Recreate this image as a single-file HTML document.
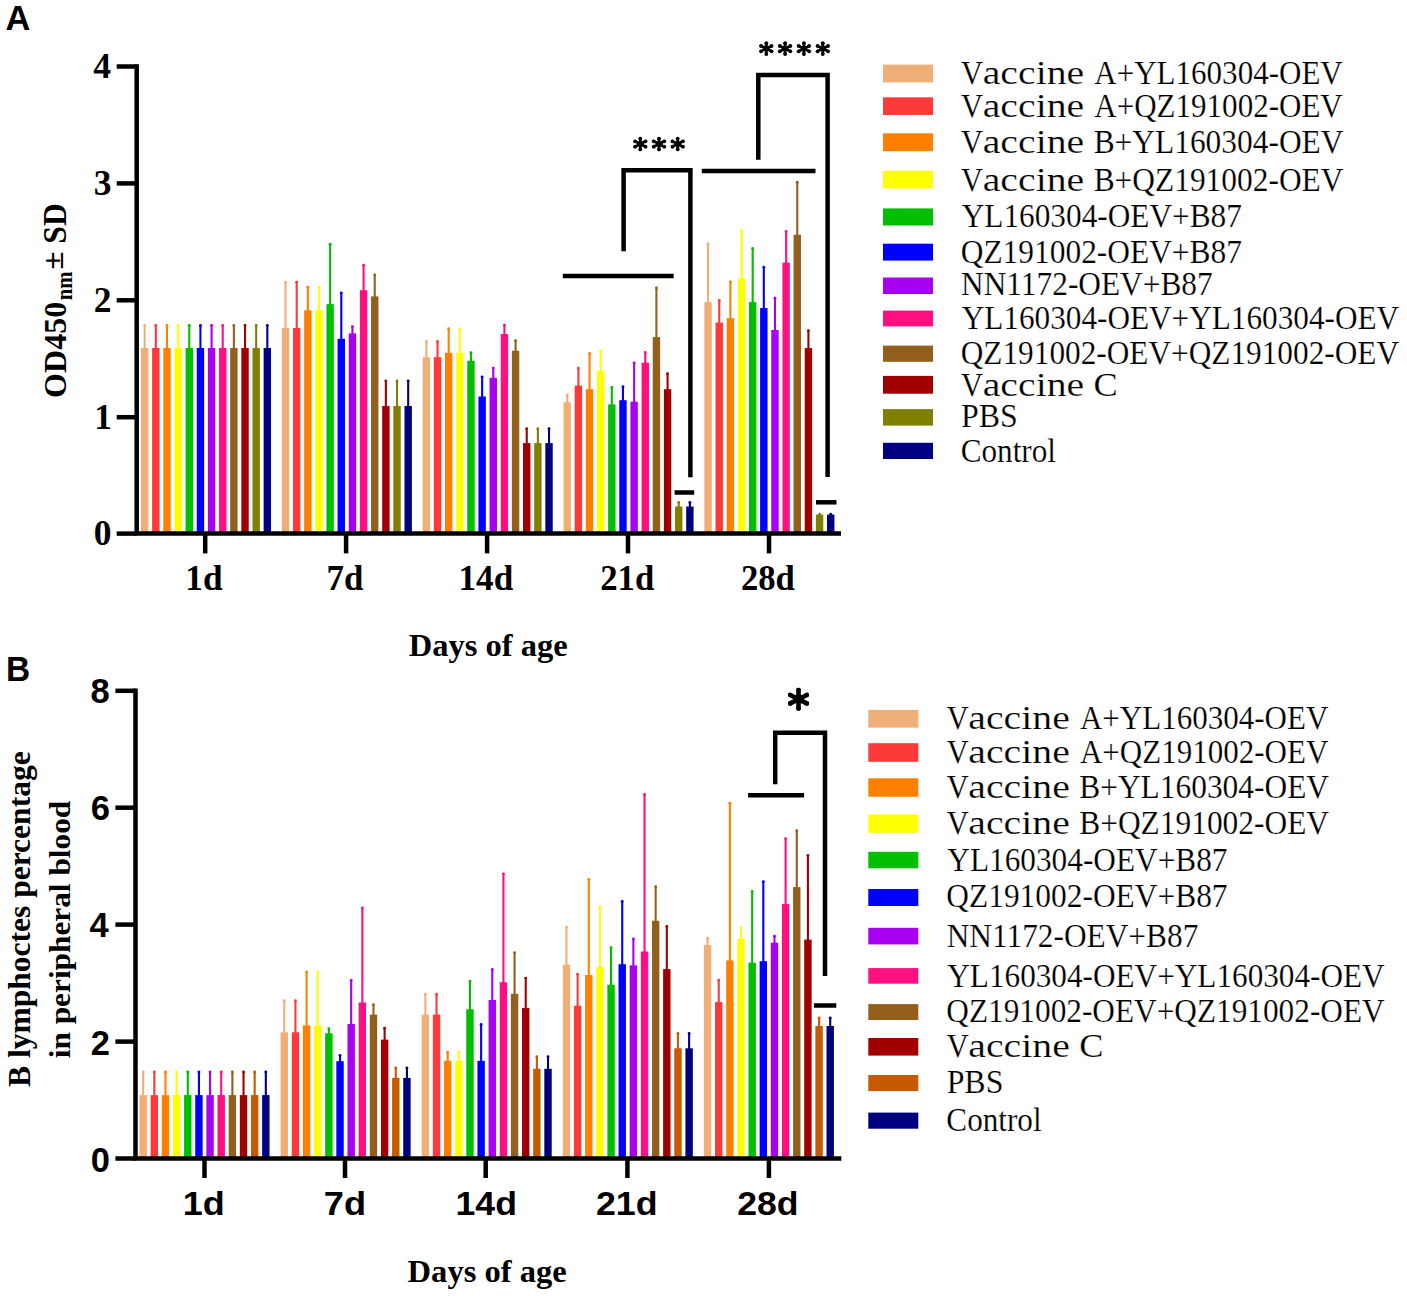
<!DOCTYPE html><html><head><meta charset="utf-8"><title>Figure</title><style>html,body{margin:0;padding:0;background:#fff;overflow:hidden}svg{display:block}</style></head><body>
<svg width="1407" height="1296" viewBox="0 0 1407 1296">
<rect width="1407" height="1296" fill="#fff"/>
<rect x="140.98" y="348.0" width="7.4" height="185.6" fill="#F0AF76"/>
<line x1="144.68" y1="349.0" x2="144.68" y2="325.3" stroke="#F0AF76" stroke-width="2.1"/>
<circle cx="144.68" cy="325.5" r="1.45" fill="#F0AF76"/>
<rect x="152.12" y="348.0" width="7.4" height="185.6" fill="#FC3A3A"/>
<line x1="155.82" y1="349.0" x2="155.82" y2="325.3" stroke="#FC3A3A" stroke-width="2.1"/>
<circle cx="155.82" cy="325.5" r="1.45" fill="#FC3A3A"/>
<rect x="163.28" y="348.0" width="7.4" height="185.6" fill="#FF8000"/>
<line x1="166.97" y1="349.0" x2="166.97" y2="325.3" stroke="#FF8000" stroke-width="2.1"/>
<circle cx="166.97" cy="325.5" r="1.45" fill="#FF8000"/>
<rect x="174.43" y="348.0" width="7.4" height="185.6" fill="#FFFF00"/>
<line x1="178.12" y1="349.0" x2="178.12" y2="325.3" stroke="#FFFF00" stroke-width="2.1"/>
<circle cx="178.12" cy="325.5" r="1.45" fill="#FFFF00"/>
<rect x="185.58" y="348.0" width="7.4" height="185.6" fill="#00BF00"/>
<line x1="189.28" y1="349.0" x2="189.28" y2="325.3" stroke="#00BF00" stroke-width="2.1"/>
<circle cx="189.28" cy="325.5" r="1.45" fill="#00BF00"/>
<rect x="196.73" y="348.0" width="7.4" height="185.6" fill="#0000FF"/>
<line x1="200.43" y1="349.0" x2="200.43" y2="325.3" stroke="#0000FF" stroke-width="2.1"/>
<circle cx="200.43" cy="325.5" r="1.45" fill="#0000FF"/>
<rect x="207.88" y="348.0" width="7.4" height="185.6" fill="#A800F0"/>
<line x1="211.57" y1="349.0" x2="211.57" y2="325.3" stroke="#A800F0" stroke-width="2.1"/>
<circle cx="211.57" cy="325.5" r="1.45" fill="#A800F0"/>
<rect x="219.03" y="348.0" width="7.4" height="185.6" fill="#FF1080"/>
<line x1="222.72" y1="349.0" x2="222.72" y2="325.3" stroke="#FF1080" stroke-width="2.1"/>
<circle cx="222.72" cy="325.5" r="1.45" fill="#FF1080"/>
<rect x="230.18" y="348.0" width="7.4" height="185.6" fill="#935F1C"/>
<line x1="233.88" y1="349.0" x2="233.88" y2="325.3" stroke="#935F1C" stroke-width="2.1"/>
<circle cx="233.88" cy="325.5" r="1.45" fill="#935F1C"/>
<rect x="241.33" y="348.0" width="7.4" height="185.6" fill="#A00000"/>
<line x1="245.03" y1="349.0" x2="245.03" y2="325.3" stroke="#A00000" stroke-width="2.1"/>
<circle cx="245.03" cy="325.5" r="1.45" fill="#A00000"/>
<rect x="252.48" y="348.0" width="7.4" height="185.6" fill="#808000"/>
<line x1="256.18" y1="349.0" x2="256.18" y2="325.3" stroke="#808000" stroke-width="2.1"/>
<circle cx="256.18" cy="325.5" r="1.45" fill="#808000"/>
<rect x="263.62" y="348.0" width="7.4" height="185.6" fill="#000080"/>
<line x1="267.32" y1="349.0" x2="267.32" y2="325.3" stroke="#000080" stroke-width="2.1"/>
<circle cx="267.32" cy="325.5" r="1.45" fill="#000080"/>
<rect x="281.83" y="328.0" width="7.4" height="205.6" fill="#F0AF76"/>
<line x1="285.53" y1="329.0" x2="285.53" y2="282.0" stroke="#F0AF76" stroke-width="2.1"/>
<circle cx="285.53" cy="282.2" r="1.45" fill="#F0AF76"/>
<rect x="292.98" y="328.0" width="7.4" height="205.6" fill="#FC3A3A"/>
<line x1="296.68" y1="329.0" x2="296.68" y2="282.0" stroke="#FC3A3A" stroke-width="2.1"/>
<circle cx="296.68" cy="282.2" r="1.45" fill="#FC3A3A"/>
<rect x="304.13" y="310.3" width="7.4" height="223.3" fill="#FF8000"/>
<line x1="307.83" y1="311.3" x2="307.83" y2="287.0" stroke="#FF8000" stroke-width="2.1"/>
<circle cx="307.83" cy="287.2" r="1.45" fill="#FF8000"/>
<rect x="315.28" y="310.3" width="7.4" height="223.3" fill="#FFFF00"/>
<line x1="318.98" y1="311.3" x2="318.98" y2="287.0" stroke="#FFFF00" stroke-width="2.1"/>
<circle cx="318.98" cy="287.2" r="1.45" fill="#FFFF00"/>
<rect x="326.43" y="304.1" width="7.4" height="229.5" fill="#00BF00"/>
<line x1="330.12" y1="305.1" x2="330.12" y2="244.1" stroke="#00BF00" stroke-width="2.1"/>
<circle cx="330.12" cy="244.3" r="1.45" fill="#00BF00"/>
<rect x="337.58" y="338.8" width="7.4" height="194.8" fill="#0000FF"/>
<line x1="341.28" y1="339.8" x2="341.28" y2="292.8" stroke="#0000FF" stroke-width="2.1"/>
<circle cx="341.28" cy="293.0" r="1.45" fill="#0000FF"/>
<rect x="348.73" y="333.4" width="7.4" height="200.2" fill="#A800F0"/>
<line x1="352.43" y1="334.4" x2="352.43" y2="326.4" stroke="#A800F0" stroke-width="2.1"/>
<circle cx="352.43" cy="326.6" r="1.45" fill="#A800F0"/>
<rect x="359.88" y="290.2" width="7.4" height="243.4" fill="#FF1080"/>
<line x1="363.58" y1="291.2" x2="363.58" y2="265.0" stroke="#FF1080" stroke-width="2.1"/>
<circle cx="363.58" cy="265.2" r="1.45" fill="#FF1080"/>
<rect x="371.03" y="296.4" width="7.4" height="237.2" fill="#935F1C"/>
<line x1="374.73" y1="297.4" x2="374.73" y2="274.7" stroke="#935F1C" stroke-width="2.1"/>
<circle cx="374.73" cy="274.9" r="1.45" fill="#935F1C"/>
<rect x="382.18" y="406.0" width="7.4" height="127.6" fill="#A00000"/>
<line x1="385.88" y1="407.0" x2="385.88" y2="380.7" stroke="#A00000" stroke-width="2.1"/>
<circle cx="385.88" cy="380.9" r="1.45" fill="#A00000"/>
<rect x="393.33" y="406.0" width="7.4" height="127.6" fill="#808000"/>
<line x1="397.03" y1="407.0" x2="397.03" y2="380.7" stroke="#808000" stroke-width="2.1"/>
<circle cx="397.03" cy="380.9" r="1.45" fill="#808000"/>
<rect x="404.48" y="406.0" width="7.4" height="127.6" fill="#000080"/>
<line x1="408.18" y1="407.0" x2="408.18" y2="380.7" stroke="#000080" stroke-width="2.1"/>
<circle cx="408.18" cy="380.9" r="1.45" fill="#000080"/>
<rect x="422.68" y="357.2" width="7.4" height="176.4" fill="#F0AF76"/>
<line x1="426.38" y1="358.2" x2="426.38" y2="341.3" stroke="#F0AF76" stroke-width="2.1"/>
<circle cx="426.38" cy="341.5" r="1.45" fill="#F0AF76"/>
<rect x="433.82" y="357.2" width="7.4" height="176.4" fill="#FC3A3A"/>
<line x1="437.52" y1="358.2" x2="437.52" y2="341.3" stroke="#FC3A3A" stroke-width="2.1"/>
<circle cx="437.52" cy="341.5" r="1.45" fill="#FC3A3A"/>
<rect x="444.98" y="352.8" width="7.4" height="180.8" fill="#FF8000"/>
<line x1="448.68" y1="353.8" x2="448.68" y2="328.5" stroke="#FF8000" stroke-width="2.1"/>
<circle cx="448.68" cy="328.7" r="1.45" fill="#FF8000"/>
<rect x="456.12" y="352.8" width="7.4" height="180.8" fill="#FFFF00"/>
<line x1="459.82" y1="353.8" x2="459.82" y2="328.5" stroke="#FFFF00" stroke-width="2.1"/>
<circle cx="459.82" cy="328.7" r="1.45" fill="#FFFF00"/>
<rect x="467.27" y="360.8" width="7.4" height="172.8" fill="#00BF00"/>
<line x1="470.97" y1="361.8" x2="470.97" y2="352.4" stroke="#00BF00" stroke-width="2.1"/>
<circle cx="470.97" cy="352.6" r="1.45" fill="#00BF00"/>
<rect x="478.43" y="396.5" width="7.4" height="137.1" fill="#0000FF"/>
<line x1="482.12" y1="397.5" x2="482.12" y2="376.7" stroke="#0000FF" stroke-width="2.1"/>
<circle cx="482.12" cy="376.9" r="1.45" fill="#0000FF"/>
<rect x="489.57" y="377.8" width="7.4" height="155.8" fill="#A800F0"/>
<line x1="493.27" y1="378.8" x2="493.27" y2="367.9" stroke="#A800F0" stroke-width="2.1"/>
<circle cx="493.27" cy="368.1" r="1.45" fill="#A800F0"/>
<rect x="500.73" y="334.0" width="7.4" height="199.6" fill="#FF1080"/>
<line x1="504.43" y1="335.0" x2="504.43" y2="324.9" stroke="#FF1080" stroke-width="2.1"/>
<circle cx="504.43" cy="325.1" r="1.45" fill="#FF1080"/>
<rect x="511.88" y="350.7" width="7.4" height="182.9" fill="#935F1C"/>
<line x1="515.58" y1="351.7" x2="515.58" y2="340.6" stroke="#935F1C" stroke-width="2.1"/>
<circle cx="515.58" cy="340.8" r="1.45" fill="#935F1C"/>
<rect x="523.02" y="443.1" width="7.4" height="90.5" fill="#A00000"/>
<line x1="526.73" y1="444.1" x2="526.73" y2="428.5" stroke="#A00000" stroke-width="2.1"/>
<circle cx="526.73" cy="428.7" r="1.45" fill="#A00000"/>
<rect x="534.17" y="443.1" width="7.4" height="90.5" fill="#808000"/>
<line x1="537.88" y1="444.1" x2="537.88" y2="428.5" stroke="#808000" stroke-width="2.1"/>
<circle cx="537.88" cy="428.7" r="1.45" fill="#808000"/>
<rect x="545.32" y="443.1" width="7.4" height="90.5" fill="#000080"/>
<line x1="549.02" y1="444.1" x2="549.02" y2="428.5" stroke="#000080" stroke-width="2.1"/>
<circle cx="549.02" cy="428.7" r="1.45" fill="#000080"/>
<rect x="563.52" y="402.3" width="7.4" height="131.3" fill="#F0AF76"/>
<line x1="567.22" y1="403.3" x2="567.22" y2="395.0" stroke="#F0AF76" stroke-width="2.1"/>
<circle cx="567.22" cy="395.2" r="1.45" fill="#F0AF76"/>
<rect x="574.67" y="385.6" width="7.4" height="148.0" fill="#FC3A3A"/>
<line x1="578.38" y1="386.6" x2="578.38" y2="367.9" stroke="#FC3A3A" stroke-width="2.1"/>
<circle cx="578.38" cy="368.1" r="1.45" fill="#FC3A3A"/>
<rect x="585.82" y="389.2" width="7.4" height="144.4" fill="#FF8000"/>
<line x1="589.52" y1="390.2" x2="589.52" y2="353.3" stroke="#FF8000" stroke-width="2.1"/>
<circle cx="589.52" cy="353.5" r="1.45" fill="#FF8000"/>
<rect x="596.97" y="371.0" width="7.4" height="162.6" fill="#FFFF00"/>
<line x1="600.67" y1="372.0" x2="600.67" y2="351.2" stroke="#FFFF00" stroke-width="2.1"/>
<circle cx="600.67" cy="351.4" r="1.45" fill="#FFFF00"/>
<rect x="608.12" y="404.4" width="7.4" height="129.2" fill="#00BF00"/>
<line x1="611.82" y1="405.4" x2="611.82" y2="387.3" stroke="#00BF00" stroke-width="2.1"/>
<circle cx="611.82" cy="387.5" r="1.45" fill="#00BF00"/>
<rect x="619.27" y="400.2" width="7.4" height="133.4" fill="#0000FF"/>
<line x1="622.97" y1="401.2" x2="622.97" y2="386.6" stroke="#0000FF" stroke-width="2.1"/>
<circle cx="622.97" cy="386.8" r="1.45" fill="#0000FF"/>
<rect x="630.42" y="401.7" width="7.4" height="131.9" fill="#A800F0"/>
<line x1="634.12" y1="402.7" x2="634.12" y2="362.7" stroke="#A800F0" stroke-width="2.1"/>
<circle cx="634.12" cy="362.9" r="1.45" fill="#A800F0"/>
<rect x="641.57" y="362.7" width="7.4" height="170.9" fill="#FF1080"/>
<line x1="645.27" y1="363.7" x2="645.27" y2="352.3" stroke="#FF1080" stroke-width="2.1"/>
<circle cx="645.27" cy="352.5" r="1.45" fill="#FF1080"/>
<rect x="652.72" y="337.1" width="7.4" height="196.5" fill="#935F1C"/>
<line x1="656.42" y1="338.1" x2="656.42" y2="287.7" stroke="#935F1C" stroke-width="2.1"/>
<circle cx="656.42" cy="287.9" r="1.45" fill="#935F1C"/>
<rect x="663.87" y="389.2" width="7.4" height="144.4" fill="#A00000"/>
<line x1="667.57" y1="390.2" x2="667.57" y2="373.5" stroke="#A00000" stroke-width="2.1"/>
<circle cx="667.57" cy="373.7" r="1.45" fill="#A00000"/>
<rect x="675.02" y="506.5" width="7.4" height="27.1" fill="#808000"/>
<line x1="678.72" y1="507.5" x2="678.72" y2="502.3" stroke="#808000" stroke-width="2.1"/>
<circle cx="678.72" cy="502.5" r="1.45" fill="#808000"/>
<rect x="686.17" y="506.5" width="7.4" height="27.1" fill="#000080"/>
<line x1="689.88" y1="507.5" x2="689.88" y2="502.3" stroke="#000080" stroke-width="2.1"/>
<circle cx="689.88" cy="502.5" r="1.45" fill="#000080"/>
<rect x="704.37" y="302.1" width="7.4" height="231.5" fill="#F0AF76"/>
<line x1="708.07" y1="303.1" x2="708.07" y2="243.6" stroke="#F0AF76" stroke-width="2.1"/>
<circle cx="708.07" cy="243.8" r="1.45" fill="#F0AF76"/>
<rect x="715.52" y="322.6" width="7.4" height="211.0" fill="#FC3A3A"/>
<line x1="719.23" y1="323.6" x2="719.23" y2="300.2" stroke="#FC3A3A" stroke-width="2.1"/>
<circle cx="719.23" cy="300.4" r="1.45" fill="#FC3A3A"/>
<rect x="726.67" y="318.2" width="7.4" height="215.4" fill="#FF8000"/>
<line x1="730.38" y1="319.2" x2="730.38" y2="281.7" stroke="#FF8000" stroke-width="2.1"/>
<circle cx="730.38" cy="281.9" r="1.45" fill="#FF8000"/>
<rect x="737.82" y="278.7" width="7.4" height="254.9" fill="#FFFF00"/>
<line x1="741.52" y1="279.7" x2="741.52" y2="230.5" stroke="#FFFF00" stroke-width="2.1"/>
<circle cx="741.52" cy="230.7" r="1.45" fill="#FFFF00"/>
<rect x="748.97" y="302.1" width="7.4" height="231.5" fill="#00BF00"/>
<line x1="752.67" y1="303.1" x2="752.67" y2="248.3" stroke="#00BF00" stroke-width="2.1"/>
<circle cx="752.67" cy="248.5" r="1.45" fill="#00BF00"/>
<rect x="760.12" y="308.0" width="7.4" height="225.6" fill="#0000FF"/>
<line x1="763.82" y1="309.0" x2="763.82" y2="267.1" stroke="#0000FF" stroke-width="2.1"/>
<circle cx="763.82" cy="267.3" r="1.45" fill="#0000FF"/>
<rect x="771.27" y="330.0" width="7.4" height="203.6" fill="#A800F0"/>
<line x1="774.98" y1="331.0" x2="774.98" y2="298.1" stroke="#A800F0" stroke-width="2.1"/>
<circle cx="774.98" cy="298.3" r="1.45" fill="#A800F0"/>
<rect x="782.42" y="262.6" width="7.4" height="271.0" fill="#FF1080"/>
<line x1="786.12" y1="263.6" x2="786.12" y2="231.3" stroke="#FF1080" stroke-width="2.1"/>
<circle cx="786.12" cy="231.5" r="1.45" fill="#FF1080"/>
<rect x="793.57" y="234.7" width="7.4" height="298.9" fill="#935F1C"/>
<line x1="797.27" y1="235.7" x2="797.27" y2="182.1" stroke="#935F1C" stroke-width="2.1"/>
<circle cx="797.27" cy="182.3" r="1.45" fill="#935F1C"/>
<rect x="804.72" y="348.1" width="7.4" height="185.5" fill="#A00000"/>
<line x1="808.42" y1="349.1" x2="808.42" y2="330.4" stroke="#A00000" stroke-width="2.1"/>
<circle cx="808.42" cy="330.6" r="1.45" fill="#A00000"/>
<rect x="815.87" y="514.6" width="7.4" height="19.0" fill="#808000"/>
<line x1="819.57" y1="515.6" x2="819.57" y2="514.1" stroke="#808000" stroke-width="2.1"/>
<circle cx="819.57" cy="514.3" r="1.45" fill="#808000"/>
<rect x="827.02" y="514.6" width="7.4" height="19.0" fill="#000080"/>
<line x1="830.73" y1="515.6" x2="830.73" y2="514.1" stroke="#000080" stroke-width="2.1"/>
<circle cx="830.73" cy="514.3" r="1.45" fill="#000080"/>
<path d="M136.7 64.3 V533.6 H841.0" fill="none" stroke="#000" stroke-width="4.5"/>
<line x1="116.7" y1="66.5" x2="136.7" y2="66.5" stroke="#000" stroke-width="4.5"/>
<line x1="116.7" y1="183.4" x2="136.7" y2="183.4" stroke="#000" stroke-width="4.5"/>
<line x1="116.7" y1="300.3" x2="136.7" y2="300.3" stroke="#000" stroke-width="4.5"/>
<line x1="116.7" y1="417.2" x2="136.7" y2="417.2" stroke="#000" stroke-width="4.5"/>
<line x1="116.7" y1="533.6" x2="136.7" y2="533.6" stroke="#000" stroke-width="4.5"/>
<line x1="205.2" y1="533.6" x2="205.2" y2="553.4" stroke="#000" stroke-width="4.5"/>
<line x1="346.1" y1="533.6" x2="346.1" y2="553.4" stroke="#000" stroke-width="4.5"/>
<line x1="487.1" y1="533.6" x2="487.1" y2="553.4" stroke="#000" stroke-width="4.5"/>
<line x1="628.0" y1="533.6" x2="628.0" y2="553.4" stroke="#000" stroke-width="4.5"/>
<line x1="769.0" y1="533.6" x2="769.0" y2="553.4" stroke="#000" stroke-width="4.5"/>
<rect x="139.48" y="1095.1" width="7.4" height="63.5" fill="#F0AF76"/>
<line x1="143.18" y1="1096.1" x2="143.18" y2="1071.8" stroke="#F0AF76" stroke-width="2.1"/>
<circle cx="143.18" cy="1072.0" r="1.45" fill="#F0AF76"/>
<rect x="150.62" y="1095.1" width="7.4" height="63.5" fill="#FC3A3A"/>
<line x1="154.32" y1="1096.1" x2="154.32" y2="1071.8" stroke="#FC3A3A" stroke-width="2.1"/>
<circle cx="154.32" cy="1072.0" r="1.45" fill="#FC3A3A"/>
<rect x="161.78" y="1095.1" width="7.4" height="63.5" fill="#FF8000"/>
<line x1="165.47" y1="1096.1" x2="165.47" y2="1071.8" stroke="#FF8000" stroke-width="2.1"/>
<circle cx="165.47" cy="1072.0" r="1.45" fill="#FF8000"/>
<rect x="172.93" y="1095.1" width="7.4" height="63.5" fill="#FFFF00"/>
<line x1="176.62" y1="1096.1" x2="176.62" y2="1071.8" stroke="#FFFF00" stroke-width="2.1"/>
<circle cx="176.62" cy="1072.0" r="1.45" fill="#FFFF00"/>
<rect x="184.08" y="1095.1" width="7.4" height="63.5" fill="#00BF00"/>
<line x1="187.78" y1="1096.1" x2="187.78" y2="1071.8" stroke="#00BF00" stroke-width="2.1"/>
<circle cx="187.78" cy="1072.0" r="1.45" fill="#00BF00"/>
<rect x="195.23" y="1095.1" width="7.4" height="63.5" fill="#0000FF"/>
<line x1="198.93" y1="1096.1" x2="198.93" y2="1071.8" stroke="#0000FF" stroke-width="2.1"/>
<circle cx="198.93" cy="1072.0" r="1.45" fill="#0000FF"/>
<rect x="206.38" y="1095.1" width="7.4" height="63.5" fill="#A800F0"/>
<line x1="210.07" y1="1096.1" x2="210.07" y2="1071.8" stroke="#A800F0" stroke-width="2.1"/>
<circle cx="210.07" cy="1072.0" r="1.45" fill="#A800F0"/>
<rect x="217.53" y="1095.1" width="7.4" height="63.5" fill="#FF1080"/>
<line x1="221.22" y1="1096.1" x2="221.22" y2="1071.8" stroke="#FF1080" stroke-width="2.1"/>
<circle cx="221.22" cy="1072.0" r="1.45" fill="#FF1080"/>
<rect x="228.68" y="1095.1" width="7.4" height="63.5" fill="#935F1C"/>
<line x1="232.38" y1="1096.1" x2="232.38" y2="1071.8" stroke="#935F1C" stroke-width="2.1"/>
<circle cx="232.38" cy="1072.0" r="1.45" fill="#935F1C"/>
<rect x="239.83" y="1095.1" width="7.4" height="63.5" fill="#A00000"/>
<line x1="243.53" y1="1096.1" x2="243.53" y2="1071.8" stroke="#A00000" stroke-width="2.1"/>
<circle cx="243.53" cy="1072.0" r="1.45" fill="#A00000"/>
<rect x="250.98" y="1095.1" width="7.4" height="63.5" fill="#C55A00"/>
<line x1="254.68" y1="1096.1" x2="254.68" y2="1071.8" stroke="#C55A00" stroke-width="2.1"/>
<circle cx="254.68" cy="1072.0" r="1.45" fill="#C55A00"/>
<rect x="262.12" y="1095.1" width="7.4" height="63.5" fill="#000080"/>
<line x1="265.82" y1="1096.1" x2="265.82" y2="1071.8" stroke="#000080" stroke-width="2.1"/>
<circle cx="265.82" cy="1072.0" r="1.45" fill="#000080"/>
<rect x="280.58" y="1032.3" width="7.4" height="126.3" fill="#F0AF76"/>
<line x1="284.28" y1="1033.3" x2="284.28" y2="1000.4" stroke="#F0AF76" stroke-width="2.1"/>
<circle cx="284.28" cy="1000.6" r="1.45" fill="#F0AF76"/>
<rect x="291.73" y="1032.3" width="7.4" height="126.3" fill="#FC3A3A"/>
<line x1="295.43" y1="1033.3" x2="295.43" y2="1000.4" stroke="#FC3A3A" stroke-width="2.1"/>
<circle cx="295.43" cy="1000.6" r="1.45" fill="#FC3A3A"/>
<rect x="302.88" y="1025.4" width="7.4" height="133.2" fill="#FF8000"/>
<line x1="306.58" y1="1026.4" x2="306.58" y2="971.8" stroke="#FF8000" stroke-width="2.1"/>
<circle cx="306.58" cy="972.0" r="1.45" fill="#FF8000"/>
<rect x="314.03" y="1025.4" width="7.4" height="133.2" fill="#FFFF00"/>
<line x1="317.73" y1="1026.4" x2="317.73" y2="971.8" stroke="#FFFF00" stroke-width="2.1"/>
<circle cx="317.73" cy="972.0" r="1.45" fill="#FFFF00"/>
<rect x="325.18" y="1033.3" width="7.4" height="125.3" fill="#00BF00"/>
<line x1="328.88" y1="1034.3" x2="328.88" y2="1028.5" stroke="#00BF00" stroke-width="2.1"/>
<circle cx="328.88" cy="1028.7" r="1.45" fill="#00BF00"/>
<rect x="336.33" y="1061.2" width="7.4" height="97.3" fill="#0000FF"/>
<line x1="340.03" y1="1062.2" x2="340.03" y2="1055.2" stroke="#0000FF" stroke-width="2.1"/>
<circle cx="340.03" cy="1055.4" r="1.45" fill="#0000FF"/>
<rect x="347.48" y="1024.0" width="7.4" height="134.6" fill="#A800F0"/>
<line x1="351.18" y1="1025.0" x2="351.18" y2="980.2" stroke="#A800F0" stroke-width="2.1"/>
<circle cx="351.18" cy="980.4" r="1.45" fill="#A800F0"/>
<rect x="358.63" y="1002.5" width="7.4" height="156.1" fill="#FF1080"/>
<line x1="362.33" y1="1003.5" x2="362.33" y2="907.7" stroke="#FF1080" stroke-width="2.1"/>
<circle cx="362.33" cy="907.9" r="1.45" fill="#FF1080"/>
<rect x="369.78" y="1014.6" width="7.4" height="144.0" fill="#935F1C"/>
<line x1="373.48" y1="1015.6" x2="373.48" y2="1004.5" stroke="#935F1C" stroke-width="2.1"/>
<circle cx="373.48" cy="1004.7" r="1.45" fill="#935F1C"/>
<rect x="380.93" y="1039.6" width="7.4" height="119.0" fill="#A00000"/>
<line x1="384.62" y1="1040.6" x2="384.62" y2="1028.1" stroke="#A00000" stroke-width="2.1"/>
<circle cx="384.62" cy="1028.3" r="1.45" fill="#A00000"/>
<rect x="392.08" y="1077.9" width="7.4" height="80.7" fill="#C55A00"/>
<line x1="395.78" y1="1078.9" x2="395.78" y2="1067.7" stroke="#C55A00" stroke-width="2.1"/>
<circle cx="395.78" cy="1067.9" r="1.45" fill="#C55A00"/>
<rect x="403.23" y="1077.9" width="7.4" height="80.7" fill="#000080"/>
<line x1="406.93" y1="1078.9" x2="406.93" y2="1067.7" stroke="#000080" stroke-width="2.1"/>
<circle cx="406.93" cy="1067.9" r="1.45" fill="#000080"/>
<rect x="421.68" y="1014.6" width="7.4" height="144.0" fill="#F0AF76"/>
<line x1="425.38" y1="1015.6" x2="425.38" y2="994.1" stroke="#F0AF76" stroke-width="2.1"/>
<circle cx="425.38" cy="994.3" r="1.45" fill="#F0AF76"/>
<rect x="432.82" y="1014.6" width="7.4" height="144.0" fill="#FC3A3A"/>
<line x1="436.52" y1="1015.6" x2="436.52" y2="994.1" stroke="#FC3A3A" stroke-width="2.1"/>
<circle cx="436.52" cy="994.3" r="1.45" fill="#FC3A3A"/>
<rect x="443.98" y="1060.9" width="7.4" height="97.7" fill="#FF8000"/>
<line x1="447.68" y1="1061.9" x2="447.68" y2="1052.0" stroke="#FF8000" stroke-width="2.1"/>
<circle cx="447.68" cy="1052.2" r="1.45" fill="#FF8000"/>
<rect x="455.12" y="1060.9" width="7.4" height="97.7" fill="#FFFF00"/>
<line x1="458.82" y1="1061.9" x2="458.82" y2="1052.0" stroke="#FFFF00" stroke-width="2.1"/>
<circle cx="458.82" cy="1052.2" r="1.45" fill="#FFFF00"/>
<rect x="466.27" y="1009.3" width="7.4" height="149.3" fill="#00BF00"/>
<line x1="469.97" y1="1010.3" x2="469.97" y2="980.9" stroke="#00BF00" stroke-width="2.1"/>
<circle cx="469.97" cy="981.1" r="1.45" fill="#00BF00"/>
<rect x="477.43" y="1060.9" width="7.4" height="97.7" fill="#0000FF"/>
<line x1="481.12" y1="1061.9" x2="481.12" y2="1024.2" stroke="#0000FF" stroke-width="2.1"/>
<circle cx="481.12" cy="1024.4" r="1.45" fill="#0000FF"/>
<rect x="488.57" y="1000.0" width="7.4" height="158.6" fill="#A800F0"/>
<line x1="492.27" y1="1001.0" x2="492.27" y2="969.3" stroke="#A800F0" stroke-width="2.1"/>
<circle cx="492.27" cy="969.5" r="1.45" fill="#A800F0"/>
<rect x="499.73" y="982.2" width="7.4" height="176.4" fill="#FF1080"/>
<line x1="503.43" y1="983.2" x2="503.43" y2="873.7" stroke="#FF1080" stroke-width="2.1"/>
<circle cx="503.43" cy="873.9" r="1.45" fill="#FF1080"/>
<rect x="510.88" y="993.8" width="7.4" height="164.8" fill="#935F1C"/>
<line x1="514.58" y1="994.8" x2="514.58" y2="952.4" stroke="#935F1C" stroke-width="2.1"/>
<circle cx="514.58" cy="952.6" r="1.45" fill="#935F1C"/>
<rect x="522.02" y="1008.1" width="7.4" height="150.5" fill="#A00000"/>
<line x1="525.73" y1="1009.1" x2="525.73" y2="977.9" stroke="#A00000" stroke-width="2.1"/>
<circle cx="525.73" cy="978.1" r="1.45" fill="#A00000"/>
<rect x="533.17" y="1068.8" width="7.4" height="89.8" fill="#C55A00"/>
<line x1="536.88" y1="1069.8" x2="536.88" y2="1056.6" stroke="#C55A00" stroke-width="2.1"/>
<circle cx="536.88" cy="1056.8" r="1.45" fill="#C55A00"/>
<rect x="544.32" y="1068.8" width="7.4" height="89.8" fill="#000080"/>
<line x1="548.02" y1="1069.8" x2="548.02" y2="1056.6" stroke="#000080" stroke-width="2.1"/>
<circle cx="548.02" cy="1056.8" r="1.45" fill="#000080"/>
<rect x="562.77" y="964.7" width="7.4" height="193.9" fill="#F0AF76"/>
<line x1="566.47" y1="965.7" x2="566.47" y2="927.0" stroke="#F0AF76" stroke-width="2.1"/>
<circle cx="566.47" cy="927.2" r="1.45" fill="#F0AF76"/>
<rect x="573.92" y="1005.8" width="7.4" height="152.8" fill="#FC3A3A"/>
<line x1="577.62" y1="1006.8" x2="577.62" y2="974.0" stroke="#FC3A3A" stroke-width="2.1"/>
<circle cx="577.62" cy="974.2" r="1.45" fill="#FC3A3A"/>
<rect x="585.07" y="975.0" width="7.4" height="183.6" fill="#FF8000"/>
<line x1="588.77" y1="976.0" x2="588.77" y2="879.2" stroke="#FF8000" stroke-width="2.1"/>
<circle cx="588.77" cy="879.4" r="1.45" fill="#FF8000"/>
<rect x="596.22" y="967.1" width="7.4" height="191.5" fill="#FFFF00"/>
<line x1="599.92" y1="968.1" x2="599.92" y2="906.5" stroke="#FFFF00" stroke-width="2.1"/>
<circle cx="599.92" cy="906.7" r="1.45" fill="#FFFF00"/>
<rect x="607.37" y="984.7" width="7.4" height="173.9" fill="#00BF00"/>
<line x1="611.07" y1="985.7" x2="611.07" y2="947.6" stroke="#00BF00" stroke-width="2.1"/>
<circle cx="611.07" cy="947.8" r="1.45" fill="#00BF00"/>
<rect x="618.52" y="964.2" width="7.4" height="194.4" fill="#0000FF"/>
<line x1="622.22" y1="965.2" x2="622.22" y2="901.2" stroke="#0000FF" stroke-width="2.1"/>
<circle cx="622.22" cy="901.4" r="1.45" fill="#0000FF"/>
<rect x="629.67" y="965.3" width="7.4" height="193.3" fill="#A800F0"/>
<line x1="633.38" y1="966.3" x2="633.38" y2="938.8" stroke="#A800F0" stroke-width="2.1"/>
<circle cx="633.38" cy="939.0" r="1.45" fill="#A800F0"/>
<rect x="640.82" y="951.5" width="7.4" height="207.1" fill="#FF1080"/>
<line x1="644.52" y1="952.5" x2="644.52" y2="794.2" stroke="#FF1080" stroke-width="2.1"/>
<circle cx="644.52" cy="794.4" r="1.45" fill="#FF1080"/>
<rect x="651.97" y="920.8" width="7.4" height="237.8" fill="#935F1C"/>
<line x1="655.67" y1="921.8" x2="655.67" y2="886.6" stroke="#935F1C" stroke-width="2.1"/>
<circle cx="655.67" cy="886.8" r="1.45" fill="#935F1C"/>
<rect x="663.12" y="969.1" width="7.4" height="189.5" fill="#A00000"/>
<line x1="666.82" y1="970.1" x2="666.82" y2="926.2" stroke="#A00000" stroke-width="2.1"/>
<circle cx="666.82" cy="926.4" r="1.45" fill="#A00000"/>
<rect x="674.27" y="1048.3" width="7.4" height="110.3" fill="#C55A00"/>
<line x1="677.97" y1="1049.3" x2="677.97" y2="1033.2" stroke="#C55A00" stroke-width="2.1"/>
<circle cx="677.97" cy="1033.4" r="1.45" fill="#C55A00"/>
<rect x="685.42" y="1048.3" width="7.4" height="110.3" fill="#000080"/>
<line x1="689.12" y1="1049.3" x2="689.12" y2="1033.2" stroke="#000080" stroke-width="2.1"/>
<circle cx="689.12" cy="1033.4" r="1.45" fill="#000080"/>
<rect x="703.87" y="945.0" width="7.4" height="213.6" fill="#F0AF76"/>
<line x1="707.57" y1="946.0" x2="707.57" y2="938.0" stroke="#F0AF76" stroke-width="2.1"/>
<circle cx="707.57" cy="938.2" r="1.45" fill="#F0AF76"/>
<rect x="715.02" y="1002.1" width="7.4" height="156.5" fill="#FC3A3A"/>
<line x1="718.73" y1="1003.1" x2="718.73" y2="980.0" stroke="#FC3A3A" stroke-width="2.1"/>
<circle cx="718.73" cy="980.2" r="1.45" fill="#FC3A3A"/>
<rect x="726.17" y="960.4" width="7.4" height="198.2" fill="#FF8000"/>
<line x1="729.88" y1="961.4" x2="729.88" y2="803.0" stroke="#FF8000" stroke-width="2.1"/>
<circle cx="729.88" cy="803.2" r="1.45" fill="#FF8000"/>
<rect x="737.32" y="938.8" width="7.4" height="219.8" fill="#FFFF00"/>
<line x1="741.02" y1="939.8" x2="741.02" y2="927.5" stroke="#FFFF00" stroke-width="2.1"/>
<circle cx="741.02" cy="927.7" r="1.45" fill="#FFFF00"/>
<rect x="748.47" y="962.7" width="7.4" height="195.9" fill="#00BF00"/>
<line x1="752.17" y1="963.7" x2="752.17" y2="891.2" stroke="#00BF00" stroke-width="2.1"/>
<circle cx="752.17" cy="891.4" r="1.45" fill="#00BF00"/>
<rect x="759.62" y="961.2" width="7.4" height="197.4" fill="#0000FF"/>
<line x1="763.32" y1="962.2" x2="763.32" y2="881.5" stroke="#0000FF" stroke-width="2.1"/>
<circle cx="763.32" cy="881.7" r="1.45" fill="#0000FF"/>
<rect x="770.77" y="942.7" width="7.4" height="215.9" fill="#A800F0"/>
<line x1="774.48" y1="943.7" x2="774.48" y2="936.0" stroke="#A800F0" stroke-width="2.1"/>
<circle cx="774.48" cy="936.2" r="1.45" fill="#A800F0"/>
<rect x="781.92" y="904.1" width="7.4" height="254.5" fill="#FF1080"/>
<line x1="785.62" y1="905.1" x2="785.62" y2="838.4" stroke="#FF1080" stroke-width="2.1"/>
<circle cx="785.62" cy="838.6" r="1.45" fill="#FF1080"/>
<rect x="793.07" y="887.1" width="7.4" height="271.5" fill="#935F1C"/>
<line x1="796.77" y1="888.1" x2="796.77" y2="830.5" stroke="#935F1C" stroke-width="2.1"/>
<circle cx="796.77" cy="830.7" r="1.45" fill="#935F1C"/>
<rect x="804.22" y="939.6" width="7.4" height="219.0" fill="#A00000"/>
<line x1="807.92" y1="940.6" x2="807.92" y2="855.2" stroke="#A00000" stroke-width="2.1"/>
<circle cx="807.92" cy="855.4" r="1.45" fill="#A00000"/>
<rect x="815.37" y="1026.0" width="7.4" height="132.6" fill="#C55A00"/>
<line x1="819.07" y1="1027.0" x2="819.07" y2="1017.8" stroke="#C55A00" stroke-width="2.1"/>
<circle cx="819.07" cy="1018.0" r="1.45" fill="#C55A00"/>
<rect x="826.52" y="1026.0" width="7.4" height="132.6" fill="#000080"/>
<line x1="830.23" y1="1027.0" x2="830.23" y2="1017.8" stroke="#000080" stroke-width="2.1"/>
<circle cx="830.23" cy="1018.0" r="1.45" fill="#000080"/>
<path d="M135.5 688.6 V1158.6 H841.3" fill="none" stroke="#000" stroke-width="4.5"/>
<line x1="115.4" y1="690.8" x2="135.5" y2="690.8" stroke="#000" stroke-width="4.5"/>
<line x1="115.4" y1="807.7" x2="135.5" y2="807.7" stroke="#000" stroke-width="4.5"/>
<line x1="115.4" y1="924.6" x2="135.5" y2="924.6" stroke="#000" stroke-width="4.5"/>
<line x1="115.4" y1="1041.6" x2="135.5" y2="1041.6" stroke="#000" stroke-width="4.5"/>
<line x1="115.4" y1="1158.5" x2="135.5" y2="1158.5" stroke="#000" stroke-width="4.5"/>
<line x1="204.5" y1="1158.6" x2="204.5" y2="1178.0" stroke="#000" stroke-width="4.5"/>
<line x1="345.0" y1="1158.6" x2="345.0" y2="1178.0" stroke="#000" stroke-width="4.5"/>
<line x1="485.7" y1="1158.6" x2="485.7" y2="1178.0" stroke="#000" stroke-width="4.5"/>
<line x1="627.4" y1="1158.6" x2="627.4" y2="1178.0" stroke="#000" stroke-width="4.5"/>
<line x1="768.9" y1="1158.6" x2="768.9" y2="1178.0" stroke="#000" stroke-width="4.5"/>
<text transform="translate(5.44,30.00) scale(0.9871,1)" font-family='"Liberation Sans",sans-serif' font-weight="bold" font-size="34.93" >A</text>
<text transform="translate(5.93,680.90) scale(0.9736,1)" font-family='"Liberation Sans",sans-serif' font-weight="bold" font-size="34.35" >B</text>
<text transform="translate(93.16,78.22)" font-family='"Liberation Serif",serif' font-weight="bold" font-size="35.50" >4</text>
<text transform="translate(93.69,194.94)" font-family='"Liberation Serif",serif' font-weight="bold" font-size="35.50" >3</text>
<text transform="translate(93.87,312.01)" font-family='"Liberation Serif",serif' font-weight="bold" font-size="35.50" >2</text>
<text transform="translate(94.23,428.91)" font-family='"Liberation Serif",serif' font-weight="bold" font-size="35.50" >1</text>
<text transform="translate(93.87,545.23)" font-family='"Liberation Serif",serif' font-weight="bold" font-size="35.50" >0</text>
<text transform="translate(90.49,702.70)" font-family='"Liberation Sans",sans-serif' font-weight="bold" font-size="34.50" >8</text>
<text transform="translate(90.66,820.20)" font-family='"Liberation Sans",sans-serif' font-weight="bold" font-size="34.50" >6</text>
<text transform="translate(89.62,937.10)" font-family='"Liberation Sans",sans-serif' font-weight="bold" font-size="34.50" >4</text>
<text transform="translate(90.83,1054.88)" font-family='"Liberation Sans",sans-serif' font-weight="bold" font-size="34.50" >2</text>
<text transform="translate(90.83,1171.60)" font-family='"Liberation Sans",sans-serif' font-weight="bold" font-size="34.50" >0</text>
<text transform="translate(185.37,590.15) scale(1.0045,1)" font-family='"Liberation Serif",serif' font-weight="bold" font-size="35.18" >1d</text>
<text transform="translate(182.74,1215.17) scale(1.0833,1)" font-family='"Liberation Sans",sans-serif' font-weight="bold" font-size="33.20" >1d</text>
<text transform="translate(326.58,590.15) scale(0.9907,1)" font-family='"Liberation Serif",serif' font-weight="bold" font-size="35.18" >7d</text>
<text transform="translate(323.75,1215.17) scale(1.0912,1)" font-family='"Liberation Sans",sans-serif' font-weight="bold" font-size="33.20" >7d</text>
<text transform="translate(458.49,590.15)" font-family='"Liberation Serif",serif' font-weight="bold" font-size="35.18" >14d</text>
<text transform="translate(455.46,1215.17) scale(1.0746,1)" font-family='"Liberation Sans",sans-serif' font-weight="bold" font-size="33.20" >14d</text>
<text transform="translate(600.21,590.15) scale(0.9860,1)" font-family='"Liberation Serif",serif' font-weight="bold" font-size="35.18" >21d</text>
<text transform="translate(595.95,1215.17) scale(1.0785,1)" font-family='"Liberation Sans",sans-serif' font-weight="bold" font-size="33.20" >21d</text>
<text transform="translate(740.91,590.15) scale(0.9860,1)" font-family='"Liberation Serif",serif' font-weight="bold" font-size="35.18" >28d</text>
<text transform="translate(737.25,1215.17) scale(1.0729,1)" font-family='"Liberation Sans",sans-serif' font-weight="bold" font-size="33.20" >28d</text>
<text transform="translate(408.71,656.46) scale(1.0307,1)" font-family='"Liberation Serif",serif' font-weight="bold" font-size="31.57" >Days of age</text>
<text transform="translate(407.61,1281.60) scale(1.0391,1)" font-family='"Liberation Serif",serif' font-weight="bold" font-size="31.35" >Days of age</text>
<text transform="translate(65.98,397.90) rotate(-90) scale(1.0150,1)" font-family='"Liberation Serif",serif' font-weight="bold" font-size="31.56" >OD450</text>
<text transform="translate(72.40,300.22) rotate(-90) scale(0.9408,1)" font-family='"Liberation Serif",serif' font-weight="bold" font-size="22.13" >nm</text>
<text transform="translate(63.40,269.64) rotate(-90) scale(1.1168,1)" font-family='"Liberation Serif",serif' font-weight="bold" font-size="29.91" >±</text>
<text transform="translate(65.97,243.75) rotate(-90) scale(0.9668,1)" font-family='"Liberation Serif",serif' font-weight="bold" font-size="32.84" >SD</text>
<text transform="translate(30.45,1086.97) rotate(-90) scale(0.9985,1)" font-family='"Liberation Serif",serif' font-weight="bold" font-size="31.58" >B lymphoctes percentage</text>
<text transform="translate(70.00,1058.23) rotate(-90) scale(1.0517,1)" font-family='"Liberation Serif",serif' font-weight="bold" font-size="29.78" >in peripheral blood</text>
<line x1="562.8" y1="276.1" x2="673.7" y2="276.1" stroke="#000" stroke-width="4.5"/>
<path d="M623.6 251.3 V170.3 H690.4 V477.3" fill="none" stroke="#000" stroke-width="4.5"/>
<line x1="674.6" y1="492.5" x2="694.2" y2="492.5" stroke="#000" stroke-width="4.5"/>
<line x1="701.8" y1="171.0" x2="815.5" y2="171.0" stroke="#000" stroke-width="4.5"/>
<path d="M758.3 159.7 V75.0 H827.6 V477.1" fill="none" stroke="#000" stroke-width="4.5"/>
<line x1="816" y1="502.3" x2="836.5" y2="502.3" stroke="#000" stroke-width="4.5"/>
<line x1="748.1" y1="795.3" x2="804.1" y2="795.3" stroke="#000" stroke-width="4.5"/>
<path d="M775.2 784.2 V732.8 H825.0 V976.0" fill="none" stroke="#000" stroke-width="4.5"/>
<line x1="813.9" y1="1005.5" x2="836.3" y2="1005.5" stroke="#000" stroke-width="4.5"/>
<line x1="640.30" y1="138.60" x2="640.30" y2="149.40" stroke="#000" stroke-width="2.8" stroke-linecap="round"/>
<line x1="635.04" y1="141.32" x2="645.56" y2="146.68" stroke="#000" stroke-width="2.8" stroke-linecap="round"/>
<circle cx="645.56" cy="146.68" r="1.90" fill="#000"/>
<circle cx="635.04" cy="141.32" r="1.90" fill="#000"/>
<line x1="635.04" y1="146.68" x2="645.56" y2="141.32" stroke="#000" stroke-width="2.8" stroke-linecap="round"/>
<circle cx="645.56" cy="141.32" r="1.90" fill="#000"/>
<circle cx="635.04" cy="146.68" r="1.90" fill="#000"/>
<circle cx="640.30" cy="149.40" r="1.90" fill="#000"/>
<circle cx="640.30" cy="138.60" r="1.90" fill="#000"/>
<circle cx="640.30" cy="144.00" r="2.94" fill="#000"/>
<line x1="659.00" y1="138.60" x2="659.00" y2="149.40" stroke="#000" stroke-width="2.8" stroke-linecap="round"/>
<line x1="653.74" y1="141.32" x2="664.26" y2="146.68" stroke="#000" stroke-width="2.8" stroke-linecap="round"/>
<circle cx="664.26" cy="146.68" r="1.90" fill="#000"/>
<circle cx="653.74" cy="141.32" r="1.90" fill="#000"/>
<line x1="653.74" y1="146.68" x2="664.26" y2="141.32" stroke="#000" stroke-width="2.8" stroke-linecap="round"/>
<circle cx="664.26" cy="141.32" r="1.90" fill="#000"/>
<circle cx="653.74" cy="146.68" r="1.90" fill="#000"/>
<circle cx="659.00" cy="149.40" r="1.90" fill="#000"/>
<circle cx="659.00" cy="138.60" r="1.90" fill="#000"/>
<circle cx="659.00" cy="144.00" r="2.94" fill="#000"/>
<line x1="677.70" y1="138.60" x2="677.70" y2="149.40" stroke="#000" stroke-width="2.8" stroke-linecap="round"/>
<line x1="672.44" y1="141.32" x2="682.96" y2="146.68" stroke="#000" stroke-width="2.8" stroke-linecap="round"/>
<circle cx="682.96" cy="146.68" r="1.90" fill="#000"/>
<circle cx="672.44" cy="141.32" r="1.90" fill="#000"/>
<line x1="672.44" y1="146.68" x2="682.96" y2="141.32" stroke="#000" stroke-width="2.8" stroke-linecap="round"/>
<circle cx="682.96" cy="141.32" r="1.90" fill="#000"/>
<circle cx="672.44" cy="146.68" r="1.90" fill="#000"/>
<circle cx="677.70" cy="149.40" r="1.90" fill="#000"/>
<circle cx="677.70" cy="138.60" r="1.90" fill="#000"/>
<circle cx="677.70" cy="144.00" r="2.94" fill="#000"/>
<line x1="766.30" y1="43.20" x2="766.30" y2="54.00" stroke="#000" stroke-width="2.8" stroke-linecap="round"/>
<line x1="761.04" y1="45.92" x2="771.56" y2="51.28" stroke="#000" stroke-width="2.8" stroke-linecap="round"/>
<circle cx="771.56" cy="51.28" r="1.90" fill="#000"/>
<circle cx="761.04" cy="45.92" r="1.90" fill="#000"/>
<line x1="761.04" y1="51.28" x2="771.56" y2="45.92" stroke="#000" stroke-width="2.8" stroke-linecap="round"/>
<circle cx="771.56" cy="45.92" r="1.90" fill="#000"/>
<circle cx="761.04" cy="51.28" r="1.90" fill="#000"/>
<circle cx="766.30" cy="54.00" r="1.90" fill="#000"/>
<circle cx="766.30" cy="43.20" r="1.90" fill="#000"/>
<circle cx="766.30" cy="48.60" r="2.94" fill="#000"/>
<line x1="785.10" y1="43.20" x2="785.10" y2="54.00" stroke="#000" stroke-width="2.8" stroke-linecap="round"/>
<line x1="779.84" y1="45.92" x2="790.36" y2="51.28" stroke="#000" stroke-width="2.8" stroke-linecap="round"/>
<circle cx="790.36" cy="51.28" r="1.90" fill="#000"/>
<circle cx="779.84" cy="45.92" r="1.90" fill="#000"/>
<line x1="779.84" y1="51.28" x2="790.36" y2="45.92" stroke="#000" stroke-width="2.8" stroke-linecap="round"/>
<circle cx="790.36" cy="45.92" r="1.90" fill="#000"/>
<circle cx="779.84" cy="51.28" r="1.90" fill="#000"/>
<circle cx="785.10" cy="54.00" r="1.90" fill="#000"/>
<circle cx="785.10" cy="43.20" r="1.90" fill="#000"/>
<circle cx="785.10" cy="48.60" r="2.94" fill="#000"/>
<line x1="803.90" y1="43.20" x2="803.90" y2="54.00" stroke="#000" stroke-width="2.8" stroke-linecap="round"/>
<line x1="798.64" y1="45.92" x2="809.16" y2="51.28" stroke="#000" stroke-width="2.8" stroke-linecap="round"/>
<circle cx="809.16" cy="51.28" r="1.90" fill="#000"/>
<circle cx="798.64" cy="45.92" r="1.90" fill="#000"/>
<line x1="798.64" y1="51.28" x2="809.16" y2="45.92" stroke="#000" stroke-width="2.8" stroke-linecap="round"/>
<circle cx="809.16" cy="45.92" r="1.90" fill="#000"/>
<circle cx="798.64" cy="51.28" r="1.90" fill="#000"/>
<circle cx="803.90" cy="54.00" r="1.90" fill="#000"/>
<circle cx="803.90" cy="43.20" r="1.90" fill="#000"/>
<circle cx="803.90" cy="48.60" r="2.94" fill="#000"/>
<line x1="822.80" y1="43.20" x2="822.80" y2="54.00" stroke="#000" stroke-width="2.8" stroke-linecap="round"/>
<line x1="817.54" y1="45.92" x2="828.06" y2="51.28" stroke="#000" stroke-width="2.8" stroke-linecap="round"/>
<circle cx="828.06" cy="51.28" r="1.90" fill="#000"/>
<circle cx="817.54" cy="45.92" r="1.90" fill="#000"/>
<line x1="817.54" y1="51.28" x2="828.06" y2="45.92" stroke="#000" stroke-width="2.8" stroke-linecap="round"/>
<circle cx="828.06" cy="45.92" r="1.90" fill="#000"/>
<circle cx="817.54" cy="51.28" r="1.90" fill="#000"/>
<circle cx="822.80" cy="54.00" r="1.90" fill="#000"/>
<circle cx="822.80" cy="43.20" r="1.90" fill="#000"/>
<circle cx="822.80" cy="48.60" r="2.94" fill="#000"/>
<line x1="798.50" y1="690.00" x2="798.50" y2="708.40" stroke="#000" stroke-width="4.6" stroke-linecap="round"/>
<line x1="790.21" y1="694.98" x2="806.79" y2="703.42" stroke="#000" stroke-width="4.6" stroke-linecap="round"/>
<circle cx="806.79" cy="703.42" r="2.30" fill="#000"/>
<circle cx="790.21" cy="694.98" r="2.30" fill="#000"/>
<line x1="790.21" y1="703.42" x2="806.79" y2="694.98" stroke="#000" stroke-width="4.6" stroke-linecap="round"/>
<circle cx="806.79" cy="694.98" r="2.30" fill="#000"/>
<circle cx="790.21" cy="703.42" r="2.30" fill="#000"/>
<circle cx="798.50" cy="708.40" r="2.30" fill="#000"/>
<circle cx="798.50" cy="690.00" r="2.30" fill="#000"/>
<circle cx="798.50" cy="699.20" r="4.83" fill="#000"/>
<rect x="883" y="64.6" width="50" height="17.8" fill="#F0AF76"/>
<text transform="translate(961.10,84.40) scale(0.9277,1)" font-family='"Liberation Serif",serif' font-weight="normal" font-size="32.80" stroke="#fff" stroke-width="0.2">V</text>
<text transform="translate(982.71,84.40) scale(1.2122,1)" font-family='"Liberation Serif",serif' font-weight="normal" font-size="32.80" stroke="#fff" stroke-width="0.2">accine</text>
<text transform="translate(1094.29,84.40) scale(0.9465,1)" font-family='"Liberation Serif",serif' font-weight="normal" font-size="32.80" stroke="#fff" stroke-width="0.2">A+YL160304-OEV</text>
<rect x="883" y="97.3" width="50" height="17.7" fill="#FC3A3A"/>
<text transform="translate(961.10,116.80) scale(0.9277,1)" font-family='"Liberation Serif",serif' font-weight="normal" font-size="32.80" stroke="#fff" stroke-width="0.2">V</text>
<text transform="translate(982.71,116.80) scale(1.2122,1)" font-family='"Liberation Serif",serif' font-weight="normal" font-size="32.80" stroke="#fff" stroke-width="0.2">accine</text>
<text transform="translate(1094.29,116.80) scale(0.9465,1)" font-family='"Liberation Serif",serif' font-weight="normal" font-size="32.80" stroke="#fff" stroke-width="0.2">A+QZ191002-OEV</text>
<rect x="883" y="133.3" width="50" height="17.9" fill="#FF8000"/>
<text transform="translate(961.10,152.70) scale(0.9277,1)" font-family='"Liberation Serif",serif' font-weight="normal" font-size="32.80" stroke="#fff" stroke-width="0.2">V</text>
<text transform="translate(982.71,152.70) scale(1.2122,1)" font-family='"Liberation Serif",serif' font-weight="normal" font-size="32.80" stroke="#fff" stroke-width="0.2">accine</text>
<text transform="translate(1093.66,152.70) scale(0.9578,1)" font-family='"Liberation Serif",serif' font-weight="normal" font-size="32.80" stroke="#fff" stroke-width="0.2">B+YL160304-OEV</text>
<rect x="883" y="170.8" width="50" height="17.7" fill="#FFFF00"/>
<text transform="translate(961.10,190.50) scale(0.9277,1)" font-family='"Liberation Serif",serif' font-weight="normal" font-size="32.80" stroke="#fff" stroke-width="0.2">V</text>
<text transform="translate(982.71,190.50) scale(1.2122,1)" font-family='"Liberation Serif",serif' font-weight="normal" font-size="32.80" stroke="#fff" stroke-width="0.2">accine</text>
<text transform="translate(1093.66,190.50) scale(0.9578,1)" font-family='"Liberation Serif",serif' font-weight="normal" font-size="32.80" stroke="#fff" stroke-width="0.2">B+QZ191002-OEV</text>
<rect x="883" y="208.4" width="50" height="17.1" fill="#00BF00"/>
<text transform="translate(961.69,226.80) scale(0.9547,1)" font-family='"Liberation Serif",serif' font-weight="normal" font-size="32.80" stroke="#fff" stroke-width="0.2">YL160304-OEV+B87</text>
<rect x="883" y="243.7" width="50" height="16.9" fill="#0000FF"/>
<text transform="translate(960.74,262.60) scale(0.9579,1)" font-family='"Liberation Serif",serif' font-weight="normal" font-size="32.80" stroke="#fff" stroke-width="0.2">QZ191002-OEV+B87</text>
<rect x="883" y="277.5" width="50" height="16.5" fill="#A800F0"/>
<text transform="translate(961.06,295.00) scale(0.9562,1)" font-family='"Liberation Serif",serif' font-weight="normal" font-size="32.80" stroke="#fff" stroke-width="0.2">NN1172-OEV+B87</text>
<rect x="883" y="310.6" width="50" height="15.8" fill="#FF1080"/>
<text transform="translate(961.69,329.40) scale(0.9525,1)" font-family='"Liberation Serif",serif' font-weight="normal" font-size="32.80" stroke="#fff" stroke-width="0.2">YL160304-OEV+YL160304-OEV</text>
<rect x="883" y="345.6" width="50" height="16.2" fill="#935F1C"/>
<text transform="translate(960.75,364.40) scale(0.9545,1)" font-family='"Liberation Serif",serif' font-weight="normal" font-size="32.80" stroke="#fff" stroke-width="0.2">QZ191002-OEV+QZ191002-OEV</text>
<rect x="883" y="375.9" width="50" height="17.8" fill="#A00000"/>
<text transform="translate(961.10,396.20) scale(0.9277,1)" font-family='"Liberation Serif",serif' font-weight="normal" font-size="32.80" stroke="#fff" stroke-width="0.2">V</text>
<text transform="translate(982.71,396.20) scale(1.2122,1)" font-family='"Liberation Serif",serif' font-weight="normal" font-size="32.80" stroke="#fff" stroke-width="0.2">accine</text>
<text transform="translate(1093.55,396.20) scale(1.1072,1)" font-family='"Liberation Serif",serif' font-weight="normal" font-size="32.80" stroke="#fff" stroke-width="0.2">C</text>
<rect x="883" y="409.1" width="50" height="16.5" fill="#808000"/>
<text transform="translate(961.04,427.30) scale(0.9724,1)" font-family='"Liberation Serif",serif' font-weight="normal" font-size="32.80" stroke="#fff" stroke-width="0.2">PBS</text>
<rect x="883" y="442.8" width="50" height="16.2" fill="#000080"/>
<text transform="translate(960.75,462.20) scale(0.9502,1)" font-family='"Liberation Serif",serif' font-weight="normal" font-size="32.80" stroke="#fff" stroke-width="0.2">Control</text>
<rect x="868.3" y="709.9" width="50" height="17.7" fill="#F0AF76"/>
<text transform="translate(946.70,729.00) scale(0.9277,1)" font-family='"Liberation Serif",serif' font-weight="normal" font-size="32.80" stroke="#fff" stroke-width="0.2">V</text>
<text transform="translate(968.31,729.00) scale(1.2122,1)" font-family='"Liberation Serif",serif' font-weight="normal" font-size="32.80" stroke="#fff" stroke-width="0.2">accine</text>
<text transform="translate(1079.89,729.00) scale(0.9465,1)" font-family='"Liberation Serif",serif' font-weight="normal" font-size="32.80" stroke="#fff" stroke-width="0.2">A+YL160304-OEV</text>
<rect x="868.3" y="743.2" width="50" height="18.6" fill="#FC3A3A"/>
<text transform="translate(946.70,763.20) scale(0.9277,1)" font-family='"Liberation Serif",serif' font-weight="normal" font-size="32.80" stroke="#fff" stroke-width="0.2">V</text>
<text transform="translate(968.31,763.20) scale(1.2122,1)" font-family='"Liberation Serif",serif' font-weight="normal" font-size="32.80" stroke="#fff" stroke-width="0.2">accine</text>
<text transform="translate(1079.89,763.20) scale(0.9465,1)" font-family='"Liberation Serif",serif' font-weight="normal" font-size="32.80" stroke="#fff" stroke-width="0.2">A+QZ191002-OEV</text>
<rect x="868.3" y="778.3" width="50" height="18.5" fill="#FF8000"/>
<text transform="translate(946.70,798.40) scale(0.9277,1)" font-family='"Liberation Serif",serif' font-weight="normal" font-size="32.80" stroke="#fff" stroke-width="0.2">V</text>
<text transform="translate(968.31,798.40) scale(1.2122,1)" font-family='"Liberation Serif",serif' font-weight="normal" font-size="32.80" stroke="#fff" stroke-width="0.2">accine</text>
<text transform="translate(1079.26,798.40) scale(0.9578,1)" font-family='"Liberation Serif",serif' font-weight="normal" font-size="32.80" stroke="#fff" stroke-width="0.2">B+YL160304-OEV</text>
<rect x="868.3" y="814.5" width="50" height="18.3" fill="#FFFF00"/>
<text transform="translate(946.70,833.80) scale(0.9277,1)" font-family='"Liberation Serif",serif' font-weight="normal" font-size="32.80" stroke="#fff" stroke-width="0.2">V</text>
<text transform="translate(968.31,833.80) scale(1.2122,1)" font-family='"Liberation Serif",serif' font-weight="normal" font-size="32.80" stroke="#fff" stroke-width="0.2">accine</text>
<text transform="translate(1079.26,833.80) scale(0.9578,1)" font-family='"Liberation Serif",serif' font-weight="normal" font-size="32.80" stroke="#fff" stroke-width="0.2">B+QZ191002-OEV</text>
<rect x="868.3" y="851.8" width="50" height="16.5" fill="#00BF00"/>
<text transform="translate(947.29,870.50) scale(0.9547,1)" font-family='"Liberation Serif",serif' font-weight="normal" font-size="32.80" stroke="#fff" stroke-width="0.2">YL160304-OEV+B87</text>
<rect x="868.3" y="889" width="50" height="17.0" fill="#0000FF"/>
<text transform="translate(946.34,907.10) scale(0.9579,1)" font-family='"Liberation Serif",serif' font-weight="normal" font-size="32.80" stroke="#fff" stroke-width="0.2">QZ191002-OEV+B87</text>
<rect x="868.3" y="927.8" width="50" height="16.6" fill="#A800F0"/>
<text transform="translate(946.66,946.50) scale(0.9562,1)" font-family='"Liberation Serif",serif' font-weight="normal" font-size="32.80" stroke="#fff" stroke-width="0.2">NN1172-OEV+B87</text>
<rect x="868.3" y="968.1" width="50" height="15.6" fill="#FF1080"/>
<text transform="translate(947.29,986.50) scale(0.9525,1)" font-family='"Liberation Serif",serif' font-weight="normal" font-size="32.80" stroke="#fff" stroke-width="0.2">YL160304-OEV+YL160304-OEV</text>
<rect x="868.3" y="1004.1" width="50" height="15.9" fill="#935F1C"/>
<text transform="translate(946.35,1022.00) scale(0.9545,1)" font-family='"Liberation Serif",serif' font-weight="normal" font-size="32.80" stroke="#fff" stroke-width="0.2">QZ191002-OEV+QZ191002-OEV</text>
<rect x="868.3" y="1038" width="50" height="17.6" fill="#A00000"/>
<text transform="translate(946.70,1057.40) scale(0.9277,1)" font-family='"Liberation Serif",serif' font-weight="normal" font-size="32.80" stroke="#fff" stroke-width="0.2">V</text>
<text transform="translate(968.31,1057.40) scale(1.2122,1)" font-family='"Liberation Serif",serif' font-weight="normal" font-size="32.80" stroke="#fff" stroke-width="0.2">accine</text>
<text transform="translate(1079.15,1057.40) scale(1.1072,1)" font-family='"Liberation Serif",serif' font-weight="normal" font-size="32.80" stroke="#fff" stroke-width="0.2">C</text>
<rect x="868.3" y="1075" width="50" height="16.1" fill="#C55A00"/>
<text transform="translate(946.64,1093.20) scale(0.9724,1)" font-family='"Liberation Serif",serif' font-weight="normal" font-size="32.80" stroke="#fff" stroke-width="0.2">PBS</text>
<rect x="868.3" y="1112.6" width="50" height="16.1" fill="#000080"/>
<text transform="translate(946.35,1131.30) scale(0.9502,1)" font-family='"Liberation Serif",serif' font-weight="normal" font-size="32.80" stroke="#fff" stroke-width="0.2">Control</text>
</svg></body></html>
